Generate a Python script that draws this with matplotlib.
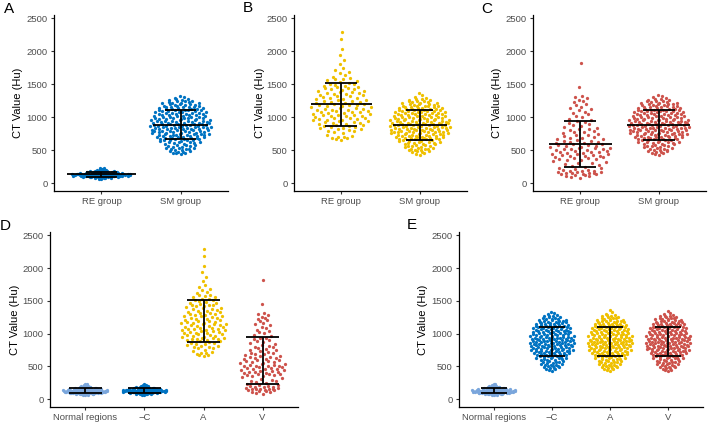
import numpy as np
import matplotlib
matplotlib.use("Agg")
import matplotlib.pyplot as plt

plt.rcParams['font.family'] = ['Liberation Sans', 'DejaVu Sans']

BLUE = '#0073C2'
YELLOW = '#EFC000'
RED = '#CD534C'
LIGHT = '#7AA6DC'

# CT values (Hu)
normal = [58, 63, 67, 71, 74, 76, 78, 80, 82, 83, 85, 86, 88, 89, 90, 92, 93, 95, 96, 97, 98, 99,
          100, 101, 102, 103, 104, 105, 106, 106, 107, 108, 109, 110, 111, 112, 112, 113, 114, 115,
          116, 117, 117, 118, 119, 120, 120, 121, 122, 123, 123, 124, 125, 126, 126, 127, 128, 129,
          129, 130, 131, 132, 133, 133, 134, 135, 136, 137, 138, 139, 140, 141, 142, 143, 144, 145,
          146, 147, 148, 149, 150, 152, 153, 154, 155, 157, 158, 159, 160, 162, 163, 165, 167, 168,
          170, 172, 174, 176, 178, 181, 184, 187, 190, 194, 198, 203, 208, 214, 221, 229, 238]

re_c = [62, 68, 72, 75, 78, 81, 83, 85, 87, 89, 90, 92, 94, 95, 96, 98, 99, 101, 102, 103, 104,
        105, 106, 107, 108, 109, 110, 111, 111, 112, 113, 114, 115, 115, 116, 117, 118, 119, 119,
        120, 121, 121, 122, 123, 124, 124, 125, 126, 127, 127, 128, 129, 130, 130, 131, 132, 133,
        134, 134, 135, 136, 137, 138, 138, 139, 140, 141, 142, 142, 143, 144, 145, 146, 147, 148,
        149, 150, 151, 152, 153, 155, 156, 157, 158, 159, 161, 162, 164, 165, 167, 169, 170, 172,
        174, 176, 178, 179, 182, 185, 188, 191, 195, 199, 204, 209, 215, 222, 230]

re_a = [652, 667, 681, 686, 697, 703, 714, 735, 754, 776, 784, 797,
        801, 813, 818, 830, 834, 847, 851, 863, 868, 881, 885, 898,
        901, 910, 913, 923, 926, 936, 940, 950, 953, 963, 966, 977, 980, 991, 994,
        1002, 1011, 1013, 1023, 1026, 1036, 1038, 1048, 1051, 1061, 1063, 1073, 1076, 1086, 1088, 1098,
        1102, 1112, 1115, 1125, 1128, 1139, 1141, 1152, 1155, 1165, 1168, 1179, 1181, 1192, 1195,
        1203, 1214, 1218, 1230, 1234, 1245, 1249, 1261, 1264, 1276, 1280, 1291, 1296,
        1302, 1314, 1319, 1331, 1335, 1348, 1352, 1364, 1369, 1381, 1385, 1397,
        1403, 1416, 1422, 1430, 1435, 1441, 1454, 1460, 1473, 1479, 1494,
        1505, 1510, 1524, 1535, 1553, 1564, 1575, 1582, 1592, 1615, 1636, 1664, 1684,
        1715, 1744, 1801, 1862, 1941, 2028, 2181, 2285]

re_v = [84, 98, 104, 115, 119, 129, 132, 141, 143, 149,
        152, 158, 160, 161, 169, 170, 178, 180, 190, 193, 205, 210, 223, 230, 246,
        256, 273, 283, 299, 308, 324, 331, 348,
        352, 362, 365, 376, 379, 390, 393, 404, 407, 418, 421, 432, 435, 445, 448,
        454, 463, 465, 475, 477, 487, 489, 499, 501, 511, 513, 523, 525, 535, 537, 548,
        551, 563, 566, 578, 582, 593, 597, 609, 612, 624, 628, 639, 643,
        652, 665, 671, 685, 690, 704, 710, 724, 729, 743,
        753, 769, 777, 794, 802, 818, 827, 843,
        855, 873, 883, 901, 910, 928, 938,
        956, 976, 1009, 1022, 1043,
        1060, 1085, 1102, 1126, 1143, 1161, 1186, 1203, 1228, 1245,
        1259, 1286, 1304, 1320, 1452, 1815]

sm_c = [436, 449, 458, 463, 472, 478, 488, 493, 501, 504, 513, 519, 522,
        526, 534, 537, 549, 551, 562, 569, 573,
        576, 582, 591, 595, 604, 608, 616, 620, 624,
        626, 635, 639, 647, 649, 658, 660, 664, 669, 673,
        675, 679, 684, 686, 691, 693, 698, 700, 704, 709, 711, 716, 718, 723,
        727, 730, 732, 737, 740, 742, 747, 750, 752, 757, 759, 764, 767, 770, 772,
        777, 779, 784, 787, 790, 792, 797, 799, 804, 807, 809, 814, 817, 819, 824,
        825, 830, 833, 834, 839, 841, 846, 847, 852, 855, 856, 861, 864, 865, 870, 873,
        875, 880, 881, 886, 887, 892, 895, 896, 901, 902, 907, 910, 911, 916, 919, 921,
        927, 928, 934, 935, 940, 942, 947, 948, 954, 955, 960, 962, 967, 968, 974,
        976, 981, 983, 988, 990, 995, 997, 1003, 1004, 1010, 1011, 1017, 1018, 1024,
        1026, 1032, 1034, 1039, 1041, 1047, 1049, 1054, 1056, 1062, 1064, 1069, 1071,
        1078, 1080, 1086, 1088, 1094, 1096, 1103, 1105, 1108, 1111, 1113, 1119, 1121,
        1128, 1131, 1134, 1138, 1141, 1148, 1151, 1155, 1158, 1161, 1168, 1171, 1175,
        1179, 1183, 1191, 1196, 1199, 1204, 1208, 1213, 1217, 1221,
        1230, 1236, 1241, 1246, 1252, 1262, 1268, 1275, 1283, 1294, 1312, 1325]

sm_a = [431, 446, 454, 466, 470, 481, 485, 496, 498, 507, 511, 518, 524,
        528, 531, 542, 548, 557, 564, 566, 574,
        578, 586, 589, 599, 602, 612, 614, 618, 622,
        628, 633, 640, 645, 651, 652, 662, 663, 667, 671,
        677, 678, 682, 688, 689, 695, 696, 702, 703, 707, 710, 714, 717, 721,
        725, 728, 734, 735, 741, 744, 745, 748, 754, 755, 761, 762, 768, 771, 774,
        775, 781, 782, 788, 791, 794, 795, 801, 802, 808, 811, 812, 815, 821, 822,
        827, 828, 831, 836, 837, 843, 844, 849, 850, 853, 858, 859, 862, 867, 868, 874,
        877, 878, 883, 884, 889, 890, 893, 898, 899, 904, 905, 908, 913, 914, 917, 923,
        925, 931, 932, 937, 938, 941, 944, 950, 951, 957, 958, 961, 965, 970, 972,
        978, 979, 985, 986, 989, 993, 999, 1000, 1006, 1008, 1013, 1015, 1020, 1022,
        1028, 1030, 1033, 1037, 1043, 1044, 1048, 1052, 1058, 1059, 1063, 1067, 1073,
        1076, 1082, 1084, 1087, 1092, 1098, 1100, 1104, 1106, 1109, 1112, 1117, 1123,
        1126, 1130, 1134, 1136, 1143, 1146, 1150, 1153, 1156, 1163, 1166, 1170, 1173,
        1177, 1186, 1188, 1193, 1199, 1201, 1211, 1214, 1219, 1224,
        1232, 1240, 1245, 1249, 1257, 1266, 1274, 1282, 1289, 1301, 1330, 1364]

sm_v = [422, 441, 451, 460, 468, 476, 483, 491, 497, 503, 509, 515, 521,
        529, 533, 541, 546, 556, 561, 568, 571,
        579, 587, 588, 600, 601, 613, 617, 621, 625,
        629, 629, 637, 648, 648, 656, 659, 666, 667, 674,
        674, 681, 681, 685, 692, 692, 699, 699, 706, 706, 713, 713, 720, 724,
        728, 731, 734, 738, 738, 745, 747, 751, 751, 758, 758, 765, 765, 771, 774,
        778, 778, 785, 785, 792, 794, 798, 798, 805, 805, 812, 812, 818, 818, 825,
        827, 831, 831, 837, 840, 843, 843, 850, 850, 856, 858, 862, 862, 868, 871, 874,
        877, 877, 884, 884, 890, 893, 896, 896, 903, 903, 910, 910, 917, 917, 920, 924,
        926, 930, 930, 937, 937, 944, 944, 951, 952, 957, 957, 964, 964, 971, 971,
        978, 978, 985, 985, 992, 992, 999, 1001, 1006, 1007, 1013, 1014, 1021, 1021,
        1029, 1029, 1036, 1036, 1043, 1045, 1051, 1051, 1058, 1060, 1066, 1066, 1074,
        1079, 1083, 1087, 1091, 1095, 1099, 1101, 1104, 1107, 1108, 1115, 1116, 1124,
        1127, 1129, 1133, 1139, 1144, 1147, 1149, 1154, 1159, 1164, 1169, 1174, 1178,
        1181, 1187, 1193, 1198, 1202, 1206, 1213, 1216, 1219, 1225,
        1234, 1238, 1243, 1250, 1259, 1267, 1270, 1276, 1286, 1299, 1318, 1341]

two_groups = ['RE group', 'SM group']
four_groups = ['Normal regions', '\u2212C', 'A', 'V']


def vdc(n):
    # van der Corput sequence, base 2
    out = []
    for i in range(1, n + 1):
        x, denom, k = 0.0, 1.0, i
        while k:
            denom *= 2
            k, r = divmod(k, 2)
            x += r / denom
        out.append(x)
    return np.array(out)


def quasirandom(y, width=0.4):
    y = np.asarray(y, float)
    n = len(y)
    sd = y.std(ddof=1)
    q75, q25 = np.percentile(y, [75, 25])
    bw = 0.9 * min(sd, (q75 - q25) / 1.34) * n ** -0.2
    grid = np.linspace(y.min() - 3 * bw, y.max() + 3 * bw, 512)
    dens = np.exp(-0.5 * ((grid[:, None] - y[None, :]) / bw) ** 2).sum(1)
    dens /= dens.max()
    d = np.interp(y, grid, dens)
    rank = np.argsort(np.argsort(y, kind='stable'), kind='stable')
    return (vdc(n)[rank] - 0.5) * 2 * d * width


def panel(ax, groups, colors, labels, cap_hw, mean_hw=None):
    for i, (vals, col) in enumerate(zip(groups, colors), start=1):
        v = np.asarray(vals, float)
        ax.scatter(i + quasirandom(v), v, s=5.5, color=col, linewidths=0, zorder=2)
        m, s = v.mean(), v.std(ddof=1)
        ax.vlines(i, m - s, m + s, color='black', lw=1.3, zorder=3)
        ax.hlines([m - s, m + s], i - cap_hw[i - 1], i + cap_hw[i - 1], color='black', lw=1.3, zorder=3)
        if mean_hw is not None:
            ax.hlines(m, i - mean_hw[i - 1], i + mean_hw[i - 1], color='black', lw=1.3, zorder=3)
    ax.set_xlim(0.4, len(groups) + 0.6)
    ax.set_ylim(-120, 2550)
    ax.set_yticks([0, 500, 1000, 1500, 2000, 2500])
    ax.set_xticks(range(1, len(groups) + 1))
    ax.set_xticklabels(labels)
    for side in ['top', 'right']:
        ax.spines[side].set_visible(False)
    for side in ['left', 'bottom']:
        ax.spines[side].set_linewidth(0.9)
    ax.tick_params(length=2.5, width=0.8, color='#333333', labelcolor='#4D4D4D',
                   labelsize=6.8, pad=2)


W, H = 708, 422
fig = plt.figure(figsize=(W / 100, H / 100), dpi=100)


def add_axes(x0, x1, y0, y1):
    return fig.add_axes([x0 / W, 1 - y1 / H, (x1 - x0) / W, (y1 - y0) / H])


axA = add_axes(54, 228, 15, 191)
axB = add_axes(294, 467, 15, 191)
axC = add_axes(533, 706, 15, 191)
axD = add_axes(50, 298, 232, 407)
axE = add_axes(459, 703, 232, 407)

panel(axA, [re_c, sm_c], [BLUE, BLUE], two_groups, [0.2, 0.2], [0.44, 0.35])
panel(axB, [re_a, sm_a], [YELLOW, YELLOW], two_groups, [0.2, 0.17], [0.39, 0.34])
panel(axC, [re_v, sm_v], [RED, RED], two_groups, [0.2, 0.2], [0.4, 0.4])
panel(axD, [normal, re_c, re_a, re_v], [LIGHT, BLUE, YELLOW, RED], four_groups, [0.28] * 4)
panel(axE, [normal, sm_c, sm_a, sm_v], [LIGHT, BLUE, YELLOW, RED], four_groups, [0.22] * 4)

for x, y, lab in [(18, 103, 'CT Value (Hu)'), (260, 103, 'CT Value (Hu)'), (497, 103, 'CT Value (Hu)'),
                  (15, 320, 'CT Value (Hu)'), (423, 320, 'CT Value (Hu)')]:
    fig.text(x / W, 1 - y / H, lab, rotation=90, ha='center', va='center', fontsize=8, color='black')

for x, y, lab in [(4, 9, 'A'), (243, 8, 'B'), (481, 9, 'C'), (0, 226, 'D'), (407, 225, 'E')]:
    fig.text(x / W, 1 - y / H, lab, ha='left', va='center', fontsize=11, color='black')

fig.savefig('out.png', dpi=100)
